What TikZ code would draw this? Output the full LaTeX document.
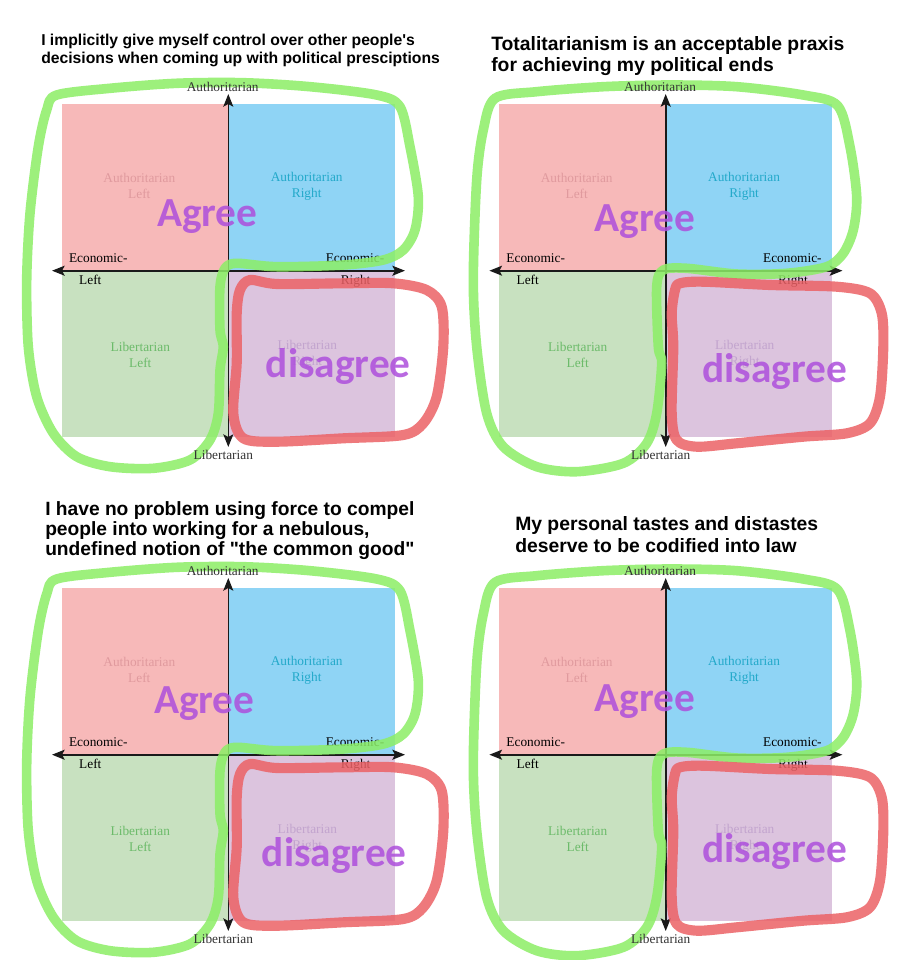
\documentclass[tikz,border=0pt]{standalone}
\usepackage{fontspec}
\setmainfont{Liberation Serif}
\newfontfamily\titlefont{Liberation Sans}
\newfontfamily\bigfont{Carlito}
\usetikzlibrary{arrows.meta}
\definecolor{qpink}{HTML}{F7B9B9}
\definecolor{qblue}{HTML}{8FD4F5}
\definecolor{qgreen}{HTML}{C8E1C0}
\definecolor{qpurple}{HTML}{DCC4DE}
\definecolor{talc}{HTML}{E09A9E}
\definecolor{tarc}{HTML}{23A9CA}
\definecolor{tllc}{HTML}{6CBB6A}
\definecolor{tlrc}{HTML}{C2A4CE}
\definecolor{axtext}{HTML}{333333}
\definecolor{axisc}{HTML}{1A1A1A}
\definecolor{wordc}{HTML}{AD4FDC}
\definecolor{loopgreen}{HTML}{8CEE66}
\definecolor{loopred}{HTML}{EC6266}

\tikzset{
  quadlabel/.style={inner sep=0pt, align=center, font=\fontsize{10}{12}\selectfont},
  axlabel/.style={inner sep=0pt, font=\fontsize{10}{12}\selectfont, text=axtext},
  econlabel/.style={inner sep=0pt, font=\fontsize{10}{12}\selectfont, text=black},
  axisline/.style={draw=axisc, line width=1.2pt,
    {Stealth[length=9.5pt,width=7.5pt,inset=2pt]}-{Stealth[length=9.5pt,width=7.5pt,inset=2pt]}},
  bigword/.style={inner sep=0pt, font={\bigfont\bfseries\fontsize{31}{36}\selectfont}, text=wordc, text opacity=0.85},
  greenloop/.style={draw=loopgreen, line width=7.2pt, opacity=0.85, line join=round},
  redloop/.style={draw=loopred, line width=7.6pt, opacity=0.85, line join=round},
  titlenode/.style={anchor=base west, inner sep=0pt, font=\titlefont\bfseries}
}

\newcommand{\greenloopA}{\draw[greenloop] plot[smooth cycle] coordinates {(-171.6,-175.7) (-118.3,-182.4) (-51.6,-187.4) (14.7,-188) (81.7,-184) (148.4,-175.7) (171.7,-164) (181.7,-124) (190,-74) (186.7,-40.7) (175,-20.7) (155,-10.7) (115,-5.7) (48.4,-4) (8.4,-7.4) (-3.3,-2.4) (-8.3,16) (-8.3,59.3) (-5,76) (-8.3,99.3) (-10,142.6) (-18.3,169.3) (-38.3,189.3) (-75,197.6) (-118.3,196) (-151.6,186) (-175,162.6) (-191.6,126) (-200,76) (-201.6,9.3) (-198.3,-57.4) (-190,-124) (-181.6,-160.7)};}
\newcommand{\redloopA}{\draw[redloop] plot[smooth cycle] coordinates {(21.7,9.3) (48.4,13.3) (115,12.6) (165,12.6) (198.4,19.3) (213.4,36) (215,76) (208.4,126) (195,152.6) (175,164.3) (115,167.6) (48.4,171) (15,167.6) (5,142.6) (8.4,92.6) (8.4,42.6) (11.7,19.3)};}
\newcommand{\greenloopB}{\draw[greenloop] plot[smooth cycle] coordinates {(-170.7,-172.4) (-129,-179) (-62.4,-184) (4.3,-185.7) (71,-184) (137.6,-175.7) (172,-165) (184.3,-124) (191,-74) (187.6,-40.7) (177.6,-17.4) (161,-4) (121,2.6) (71,3.3) (21,-2.4) (-2.4,-0.7) (-9,16) (-7.4,76) (-4,92.6) (-9,142.6) (-19,172.6) (-42.4,192.6) (-89,201) (-129,196) (-162.4,176) (-179,142.6) (-189,76) (-192.4,9.3) (-189,-90.7) (-182.4,-140.7)};}
\newcommand{\redloopB}{\draw[redloop] plot[smooth cycle] coordinates {(37.6,11) (104.3,14.3) (171,16) (204.3,22.6) (216,42.6) (217.6,76) (214.3,126) (204.3,152.6) (181,162.6) (137.6,166) (71,172.6) (31,176) (11,169.3) (6,142.6) (7.6,76) (6,42.6) (9.3,19.3) (14.3,12.6)};}

% #1 name, #2 cx, #3 cy, #4 Agree position, #5 disagree position, #6 green loop, #7 red loop
\newcommand{\quadpanel}[7]{%
\begin{scope}[shift={(#2,#3)}]
  \fill[qpink] (-166.5,-166.5) rectangle (0,0);
  \fill[qblue] (0,-166.5) rectangle (166.5,0);
  \fill[qgreen] (-166.5,0) rectangle (0,166.5);
  \fill[qpurple] (0,0) rectangle (166.5,166.5);
  \node[quadlabel, text=talc] (#1-al) at (-89,-84.4) {Authoritarian\\Left};
  \node[quadlabel, text=tarc] (#1-ar) at (78.4,-84.4) {Authoritarian\\Right};
  \node[quadlabel, text=tllc] (#1-ll) at (-88,84.3) {Libertarian\\Left};
  \node[quadlabel, text=tlrc] (#1-lr) at (79,84) {Libertarian\\Right};
  \coordinate (#1-n) at (0,-176.7);
  \coordinate (#1-s) at (0,176.3);
  \coordinate (#1-w) at (-176.3,0);
  \coordinate (#1-e) at (176.7,0);
  \draw[axisline] (#1-w) -- (#1-e);
  \draw[axisline] (#1-n) -- (#1-s);
  \node[econlabel] (#1-ewl) at (-130,-13) {Economic-};
  \node[econlabel] (#1-left) at (-138,9.5) {Left};
  \node[econlabel] (#1-ewr) at (126.7,-13) {Economic-};
  \node[econlabel] (#1-right) at (127.3,11) {Right};
  \node[bigword] (#1-agree) at (#4) {Agree};
  \node[bigword] (#1-disagree) at (#5) {disagree};
  #6
  #7
  \node[axlabel] (#1-auth) at (-5.6,-183.3) {Authoritarian};
  \node[axlabel] (#1-lib) at (-5,184.3) {Libertarian};
\end{scope}}

\begin{document}
\begin{tikzpicture}[x=0.75pt,y=-0.75pt]
\useasboundingbox (0,0) rectangle (903,960);
\fill[white] (0,0) rectangle (903,960);

\quadpanel{p1}{228.3}{270.7}{-21,-54}{110,96}{\greenloopA}{\redloopA}
\quadpanel{p2}{665.7}{270.7}{-20.7,-49}{109,101}{\greenloopB}{\redloopB}
\quadpanel{p3}{228.3}{754.7}{-24,-51}{106,101}{\greenloopA}{\redloopA}
\quadpanel{p4}{665.7}{754.7}{-21,-53}{109,97}{\greenloopB}{\redloopB}

\node[titlenode] (t1) at (41,45.7) {\parbox[t]{430pt}{\fontsize{11.8}{13.7}\selectfont I implicitly give myself control over other people's\\decisions when coming up with political presciptions}};
\node[titlenode] (t2) at (491,50) {\parbox[t]{400pt}{\fontsize{14.5}{16.3}\selectfont Totalitarianism is an acceptable praxis\\for achieving my political ends}};
\node[titlenode] (t3) at (45,515) {\parbox[t]{430pt}{\fontsize{14.4}{15.3}\selectfont I have no problem using force to compel\\people into working for a nebulous,\\undefined notion of "the common good"}};
\node[titlenode] (t4) at (515,530) {\parbox[t]{380pt}{\fontsize{14.5}{16.5}\selectfont My personal tastes and distastes\\deserve to be codified into law}};
\end{tikzpicture}
\end{document}
